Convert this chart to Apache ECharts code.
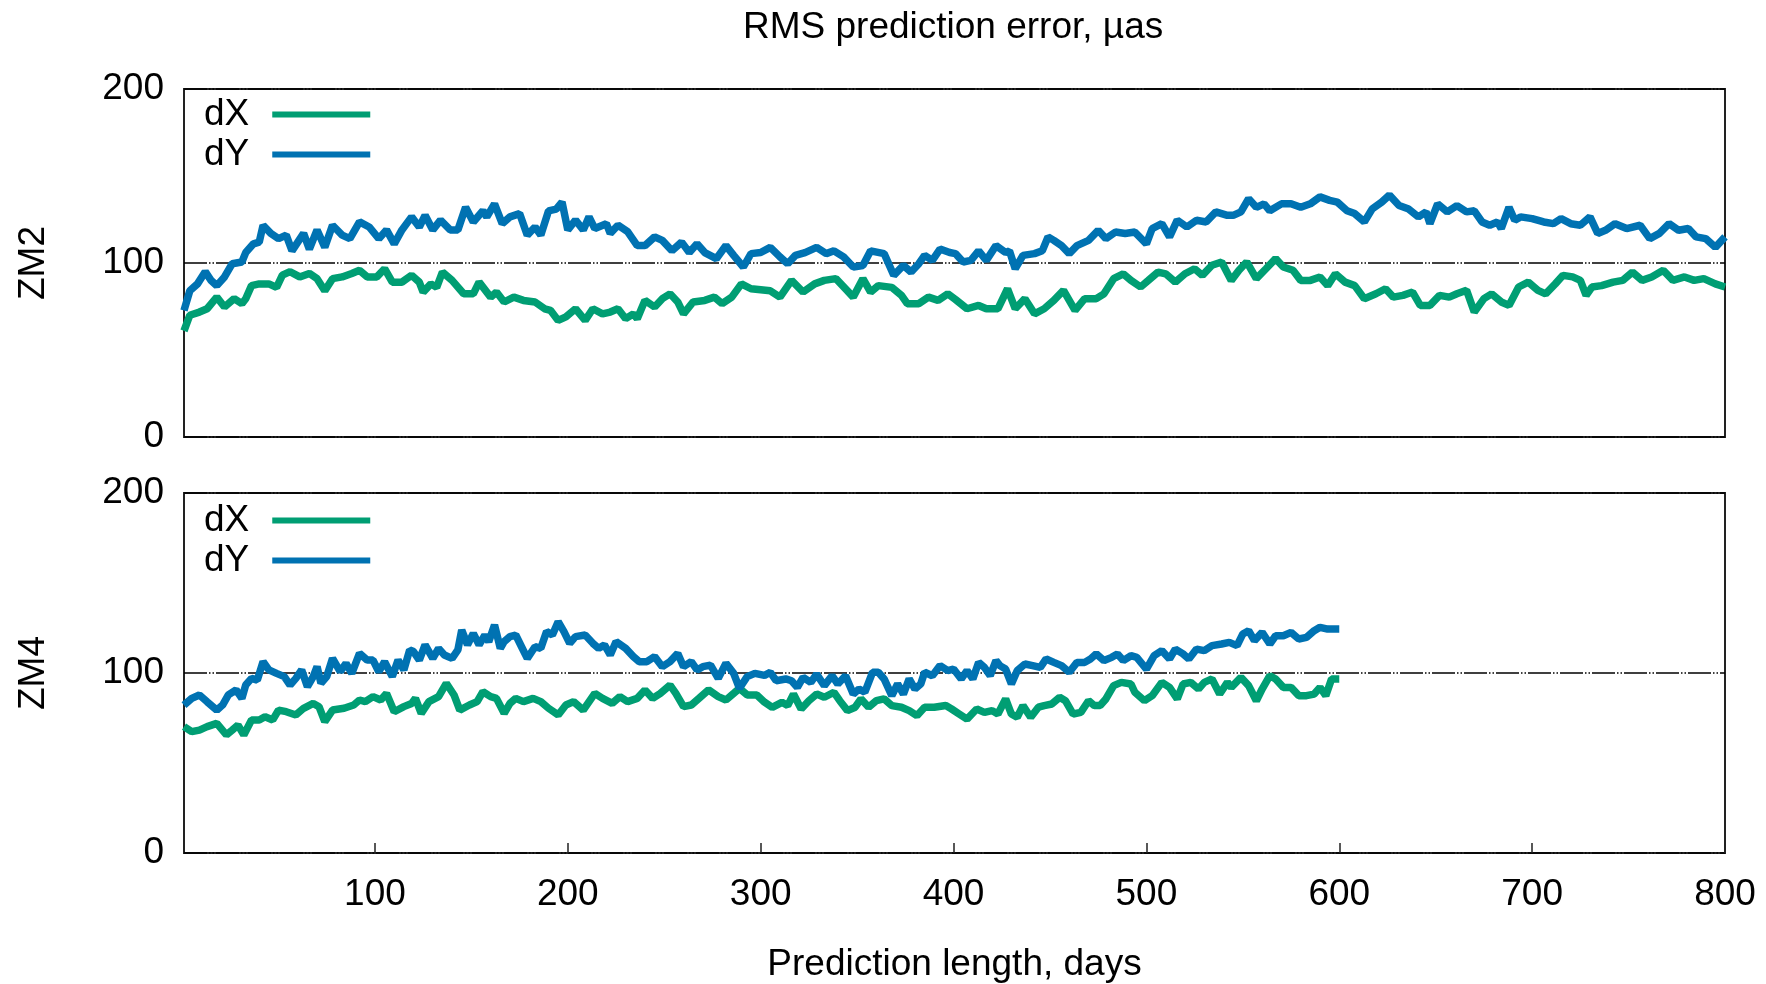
<!DOCTYPE html>
<html>
<head>
<meta charset="utf-8">
<title>RMS prediction error</title>
<script src="https://cdn.jsdelivr.net/npm/echarts@6/dist/echarts.min.js"></script>
<style>
  html, body { margin: 0; padding: 0; background: #fff; }
  #chart { width: 1766px; height: 984px; }
</style>
</head>
<body>
<div id="chart"></div>
<script>
// [day, µas]
const zm2_dX = [[1,61],[4,70],[9,71.8],[13,73.7],[18,80.4],[22,74.7],[27,79.5],[31,76.6],[33,79.5],[36,87],[40,88],[45,88],[49,86],[52,93],[56,95],[61,92],[66,94],[70,91],[74,84],[78,91],[83,92],[88,94],[92,95.8],[96,92],[101,92],[105,96.7],[109,89],[114,89],[119,93],[123,89],[125,83.3],[129,88],[132,86],[135,94.8],[140,90],[146,82.3],[151,82.3],[154,89],[160,80.4],[163,83.3],[167,77.6],[172,80.4],[177,78.5],[183,77.6],[188,73.7],[191,72.8],[195,67],[199,69],[204,73.7],[209,67],[213,73.7],[218,70.8],[222,71.8],[226,73.7],[230,68],[234,70.8],[236,68],[240,78.5],[245,74.7],[249,79.5],[253,82.3],[257,77.6],[260,70.8],[265,77.6],[271,78.5],[276,80.4],[280,76.6],[285,80.4],[290,88],[295,85.2],[305,84],[310,80.4],[316,90],[322,83.3],[328,88],[333,90],[339,91],[345,84],[348,80.4],[353,91],[357,83.3],[361,87],[368,86],[373,81.4],[376,76.6],[382,76.6],[387,80.4],[392,78.5],[397,82.3],[401,79],[407,73.7],[413,75.6],[417,73.7],[423,73.7],[428,85.2],[432,73.7],[437,79.5],[442,70.8],[447,73.7],[452,78.5],[457,84.3],[463,72.8],[468,79.5],[474,79.5],[478,82.3],[483,91],[488,93.8],[492,90],[497,86.2],[501,90],[506,94.8],[510,93.8],[515,89],[520,93.8],[525,96.7],[529,92.9],[534,98.7],[539,100.6],[544,90],[548,95.8],[552,100.6],[557,91],[562,96.7],[567,102.5],[571,97.7],[576,95.8],[580,90],[585,90],[590,92],[594,87],[598,93.8],[603,89],[608,87],[613,79.5],[619,82.3],[624,85.2],[628,80.4],[633,81.4],[638,83.3],[642,75.6],[647,75.6],[652,81.4],[657,80.4],[661,82.3],[666,84.3],[670,71.8],[675,79.5],[679,82.3],[684,77.6],[688,75.6],[693,86.2],[698,89],[703,84.3],[707,82.3],[712,88],[716,92.9],[721,92],[725,90],[728,81.4],[731,86.2],[736,87],[742,89],[747,90],[752,94.8],[757,90],[762,92],[768,95.8],[773,90],[779,92],[784,90],[789,91],[795,88],[800,86.2]];

const zm2_dY = [[1,72.7],[4,84],[8,88],[12,95],[15,90],[18,87],[22,92],[26,99.6],[31,100.6],[33,106],[37,111],[40,112],[42,121.7],[46,117],[50,114],[54,116],[57,107],[63,117],[66,108],[70,119],[74,109],[78,121.7],[83,116],[87,114],[92,123.6],[97,120.7],[102,114],[106,119],[110,111],[114,119],[119,126.5],[123,120.7],[126,127.4],[130,119],[134,124.6],[139,119],[143,119],[147,132],[151,123.6],[156,130],[158,126.5],[162,134],[166,122.6],[170,126.5],[175,128.4],[179,116],[183,120.7],[186,116],[190,130],[194,131],[197,135],[200,119],[204,124.6],[208,119],[211,126.5],[214,119.8],[220,122.6],[222,117],[226,121.7],[231,118],[236,110],[240,110],[245,115],[249,113],[254,107],[259,112],[263,106],[267,111],[271,106],[277,102.5],[282,110],[286,104.4],[291,97.7],[295,105.4],[300,106],[305,109],[310,103.5],[314,99.6],[318,104.4],[323,106],[329,109],[334,105.4],[338,107],[343,103.5],[348,97.7],[353,98.6],[357,107],[364,105.4],[369,92.9],[374,98.6],[378,94.8],[382,99.6],[385,104.4],[389,101.5],[393,108],[398,106],[401,105.4],[405,100.6],[409,101.5],[413,107],[417,101.5],[422,110],[427,106],[429,107],[432,96.7],[436,104.4],[442,105.4],[446,107],[449,115],[452,113],[456,110],[460,105.4],[464,110],[470,113],[475,118.8],[479,114],[484,117.8],[489,117],[494,117.8],[500,111],[503,119.8],[508,122.6],[512,115],[516,124.6],[521,120.7],[526,124.6],[531,123.6],[536,129.4],[542,127.4],[545,127.4],[549,129.4],[553,137],[557,132],[561,134],[564,130],[570,134],[575,134],[580,132],[585,134],[590,138],[595,136],[599,135],[604,130],[608,128.4],[613,123.6],[617,131],[622,135],[626,139],[631,133],[636,131],[641,126.5],[645,129.4],[647,122.6],[651,134],[656,129.4],[661,133],[666,129.4],[670,130],[674,123.6],[678,121.7],[682,123.6],[684,119.8],[688,132],[691,124.6],[694,126.5],[700,125.5],[706,123.6],[711,122.6],[715,125.5],[720,122.6],[725,121.7],[730,126.5],[734,117],[738,118.8],[743,122.6],[749,119.8],[756,121.7],[761,114],[766,117],[771,122.6],[776,118.8],[781,119.8],[785,115],[790,114],[795,109],[800,115]];

const zm4_dX = [[1,70.2],[5,67.4],[9,68.3],[13,70.2],[18,72],[23,65.6],[26,68.3],[29,71.1],[32,65.6],[36,73.9],[40,73.9],[43,75.7],[47,73.9],[50,79.4],[54,78.5],[59,76.7],[63,80.4],[68,83.1],[71,81.3],[74,73],[78,79.4],[84,80.4],[89,82.2],[92,85],[95,84.1],[99,86.9],[103,85],[106,88.7],[110,78.5],[115,81.3],[119,83.1],[121,85.9],[124,77.6],[128,84.1],[133,86.9],[137,94.3],[141,87.8],[144,79.4],[149,82.2],[153,84.1],[156,89.6],[160,86.9],[163,85.9],[167,77.6],[170,83.1],[173,85.9],[177,84.1],[182,85.9],[186,84.1],[190,80.4],[195,76.7],[199,82.2],[203,84.1],[208,79.4],[214,88.7],[218,85.9],[223,83.1],[227,86.9],[231,84.1],[236,85.9],[240,90.6],[244,85.9],[248,88.7],[253,93.3],[256,88.7],[260,81.3],[264,82.2],[268,85.9],[273,90.6],[278,86.9],[282,85],[286,88.7],[289,91.5],[293,87.8],[298,87.8],[302,83.8],[306,80.9],[311,83.7],[314,81.9],[317,88.3],[321,80],[325,84.6],[329,88.3],[333,86.5],[338,89.3],[341,84.6],[345,79.1],[349,81],[352,85.6],[356,81],[360,84.6],[364,85.6],[368,81.9],[373,81],[377,79.1],[381,76.3],[385,81],[390,81],[396,81.9],[399,80],[403,77.2],[407,74.4],[412,80],[416,78.1],[420,79.1],[423,77.2],[427,85.6],[430,77.2],[433,75.4],[436,81.9],[440,75.4],[444,81],[447,81.9],[451,82.8],[455,86.5],[458,84.6],[462,77.2],[466,78.1],[470,84.6],[473,81.9],[476,81.9],[479,85.6],[483,93],[487,94.8],[492,93.9],[494,89.3],[499,84.6],[503,87.4],[508,94.8],[512,92],[516,85.6],[519,93.9],[523,94.8],[527,91.1],[530,94.8],[534,96.7],[538,88.3],[542,94.8],[544,92],[549,97.6],[553,93],[557,84.6],[560,91.1],[564,98.5],[567,96.7],[571,92],[575,92],[579,87.4],[583,87.4],[587,88.3],[590,92],[593,87.4],[596,96.7],[600,96.7]];

const zm4_dY = [[1,82.2],[5,85.9],[9,87.8],[13,84],[18,79.4],[21,82.2],[24,87.8],[28,90.6],[31,85.9],[33,93.3],[36,97],[39,96],[42,106.3],[45,101.7],[49,99.8],[53,98],[56,93.3],[59,97],[62,101.7],[65,92.4],[68,98],[70,103.5],[72,94.3],[75,98],[78,108.1],[82,100.7],[85,105.4],[88,99.8],[92,110.9],[96,107.2],[99,107.2],[102,100.7],[105,106.3],[109,98],[112,107.2],[115,101.7],[118,112.8],[120,111.9],[123,107.2],[126,115.6],[130,108.1],[133,113.7],[136,110],[140,108.1],[143,112.8],[145,123.9],[148,115.6],[151,122],[154,115.6],[157,121.1],[159,117.4],[162,126.7],[165,113.7],[167,117.4],[170,120.2],[173,121.1],[176,114.6],[179,108.1],[183,114.6],[186,113.7],[189,123],[192,121.1],[195,128.5],[198,123],[201,116.5],[204,120.2],[209,121.1],[213,116.5],[216,113.7],[219,115.6],[222,110],[225,117.4],[230,113.7],[234,109.1],[237,106.3],[241,106.3],[245,109.1],[249,103.5],[253,106.3],[257,110.9],[260,103.5],[264,106.3],[267,101.7],[270,103.5],[274,104.4],[278,97],[282,105.4],[286,99.8],[289,91.5],[293,98],[297,99.8],[302,98.7],[305,100.4],[308,95.7],[313,96.7],[316,95.7],[319,92],[322,97.6],[326,94.8],[329,99.4],[333,93],[337,98.5],[340,93.9],[344,98.5],[348,88.3],[351,91.1],[354,89.3],[358,100.4],[361,100.4],[364,96.7],[368,87.4],[371,93.9],[374,88.3],[377,96.7],[380,91.1],[383,93.9],[385,100.4],[389,98.5],[393,104.1],[397,101.3],[400,102.2],[404,96.7],[407,101.3],[410,96.7],[413,105.9],[416,103.1],[419,98.5],[422,106.9],[424,104.1],[427,102.2],[430,93.9],[433,101.3],[437,105],[441,104.1],[445,103.1],[448,107.8],[452,105.9],[456,104.1],[460,100.4],[464,105.9],[468,105.9],[471,107.8],[474,110.6],[478,106.9],[482,108.7],[485,110.6],[488,106.9],[492,109.6],[495,108.7],[500,102.2],[504,109.6],[508,112.4],[512,107.8],[515,113.3],[519,110.6],[522,107.8],[526,113.3],[530,112.4],[534,115.2],[539,116.1],[543,117],[547,115.2],[550,121.7],[553,123.5],[556,118],[560,122.6],[564,116.1],[567,120.7],[571,120.7],[575,122.6],[579,118.9],[583,119.8],[587,123.5],[590,125.4],[594,124.4],[600,124.4]];

const seriesNames = ['dX', 'dY'];
const panelNames = ['ZM2', 'ZM4'];
const xTicks = [100, 200, 300, 400, 500, 600, 700, 800];
const colors = ['#009e73', '#0072b2'];

const FONT = 'Liberation Sans';
const FS = 37;

function makeLine (name, data, idx, color) {
  return {
    name: name,
    type: 'line',
    xAxisIndex: idx,
    yAxisIndex: idx,
    data: data,
    showSymbol: false,
    lineStyle: { color: color, width: 7.5 },
    itemStyle: { color: color }
  }
}

function makeLegend (top) {
  return {
    data: seriesNames,
    orient: 'vertical',
    left: 204,
    top: top,
    padding: 0,
    itemGap: 3,
    align: 'right',
    icon: 'rect',
    itemWidth: 98,
    itemHeight: 6,
    selectedMode: false,
    textStyle: { fontFamily: FONT, fontSize: FS, color: '#000', lineHeight: 33, padding: [0, 18, 0, 0] }
  }
}

function makeYAxis (idx) {
  return {
    type: 'value',
    gridIndex: idx,
    min: 0,
    max: 200,
    interval: 100,
    name: panelNames[idx],
    nameLocation: 'middle',
    nameGap: 132,
    nameTextStyle: { fontFamily: FONT, fontSize: FS, color: '#000' },
    axisLine: { show: false },
    axisTick: { show: false },
    axisLabel: { fontFamily: FONT, fontSize: FS, color: '#000', margin: 20 },
    splitLine: {
      show: true,
      lineStyle: { color: '#000', width: 1.5, type: [23, 2, 1.5, 2, 1.5, 2] }
    }
  }
}

let myChart = echarts.init(document.getElementById('chart'), null, { renderer: 'canvas' })
myChart.setOption({
  animation: false,
  backgroundColor: '#fff',
  title: {
    text: 'RMS prediction error, µas',
    left: 743,
    top: 9,
    padding: 0,
    textStyle: { fontFamily: FONT, fontSize: FS, fontWeight: 'normal', color: '#000' }
  },
  legend: [makeLegend(96), makeLegend(502)],
  grid: [
    { left: 184, right: 41, top: 89, height: 348, show: true, borderColor: '#222', borderWidth: 2, backgroundColor: 'transparent' },
    { left: 184, right: 41, top: 493, height: 360, show: true, borderColor: '#222', borderWidth: 2, backgroundColor: 'transparent' }
  ],
  xAxis: [
    {
      type: 'value',
      gridIndex: 0,
      min: 1,
      max: 800,
      axisLine: { show: false },
      axisTick: { show: false },
      axisLabel: { show: false },
      splitLine: { show: false }
    },
    {
      type: 'value',
      gridIndex: 1,
      min: 1,
      max: 800,
      name: 'Prediction length, days',
      nameLocation: 'middle',
      nameGap: 93,
      nameTextStyle: { fontFamily: FONT, fontSize: FS, color: '#000' },
      axisLine: { show: false },
      axisTick: {
        show: true,
        inside: true,
        length: 10,
        customValues: xTicks,
        lineStyle: { color: '#222', width: 1.5 }
      },
      axisLabel: {
        fontFamily: FONT,
        fontSize: FS,
        color: '#000',
        margin: 23,
        customValues: xTicks
      },
      splitLine: { show: false }
    }
  ],
  yAxis: [makeYAxis(0), makeYAxis(1)],
  series: [
    makeLine('dX', zm2_dX, 0, colors[0]),
    makeLine('dY', zm2_dY, 0, colors[1]),
    makeLine('dX', zm4_dX, 1, colors[0]),
    makeLine('dY', zm4_dY, 1, colors[1])
  ]
})
</script>
</body>
</html>
